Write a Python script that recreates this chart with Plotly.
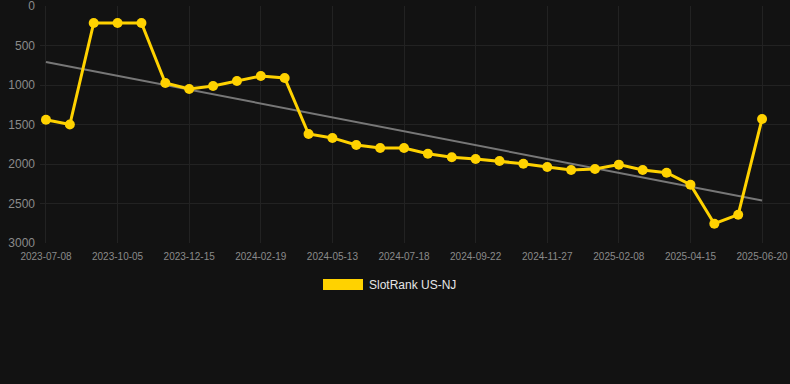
import numpy as np
import plotly.graph_objects as go

dates = ["2023-07-08", "2023-08-07", "2023-09-06", "2023-10-05", "2023-10-29", "2023-11-22",
         "2023-12-15", "2024-01-06", "2024-01-28", "2024-02-19", "2024-03-15", "2024-04-18",
         "2024-05-13", "2024-06-04", "2024-06-26", "2024-07-18", "2024-08-08", "2024-08-31",
         "2024-09-22", "2024-10-14", "2024-11-05", "2024-11-27", "2024-12-22", "2025-01-16",
         "2025-02-08", "2025-03-02", "2025-03-24", "2025-04-15", "2025-05-07", "2025-05-29",
         "2025-06-20"]
rank = [1440, 1500, 215, 215, 215, 975, 1050, 1013, 950, 886, 911, 1620, 1670, 1760, 1797,
        1797, 1870, 1915, 1937, 1962, 1996, 2038, 2076, 2063, 2008, 2076, 2110, 2262, 2756,
        2642, 1430]
tick_labels = dates[::3]
y_ticks = [0, 500, 1000, 1500, 2000, 2500, 3000]
series_name = "SlotRank US-NJ"

idx = np.arange(len(rank))
slope, intercept = np.polyfit(idx, rank, 1)
trend = slope * idx + intercept

fig = go.Figure()
fig.add_trace(go.Scatter(x=dates, y=trend, mode="lines",
                         line=dict(color="#777777", width=2), showlegend=False,
                         hoverinfo="skip"))
fig.add_trace(go.Scatter(x=dates, y=rank, mode="lines+markers", name=series_name,
                         line=dict(color="#FFD200", width=3),
                         marker=dict(color="#FFD200", size=10), showlegend=False))

fig.add_shape(type="rect", xref="paper", yref="paper", x0=(323 - 40) / 750, x1=(363 - 40) / 750,
              y0=(243 - 290) / 237, y1=(243 - 279) / 237, fillcolor="#FFD200",
              line=dict(width=0))
fig.add_annotation(xref="paper", yref="paper", x=(367 - 40) / 750, y=(243 - 284.5) / 237,
                   text=series_name, showarrow=False, xanchor="left", yanchor="middle",
                   font=dict(color="#E6E6E6", size=12, family="Liberation Sans, Arial, sans-serif"))

fig.update_layout(
    width=790, height=384,
    margin=dict(l=40, r=0, t=6, b=141),
    paper_bgcolor="#121212", plot_bgcolor="#121212",
    font=dict(family="Liberation Sans, Arial, sans-serif", color="#8a8a8a"),
    xaxis=dict(type="category", range=[-0.25, 31.17], tickmode="array",
               tickvals=tick_labels, ticktext=tick_labels,
               showgrid=True, gridcolor="#222222", gridwidth=1,
               zeroline=False, showline=False, ticks="", tickfont=dict(size=10, color="#8a8a8a"),
               ticklabelstandoff=6, ticklabeloverflow="allow"),
    yaxis=dict(range=[3000, 0], tickmode="array", tickvals=y_ticks,
               showgrid=True, gridcolor="#222222", gridwidth=1,
               zeroline=False, showline=False, ticks="", tickfont=dict(size=12, color="#8a8a8a"),
               ticklabelstandoff=4, ticklabeloverflow="allow"),
    showlegend=False,
)

fig.write_html("out.html", config={"displayModeBar": False},
               post_script="document.body.style.margin='0';document.body.style.background='#121212';")
